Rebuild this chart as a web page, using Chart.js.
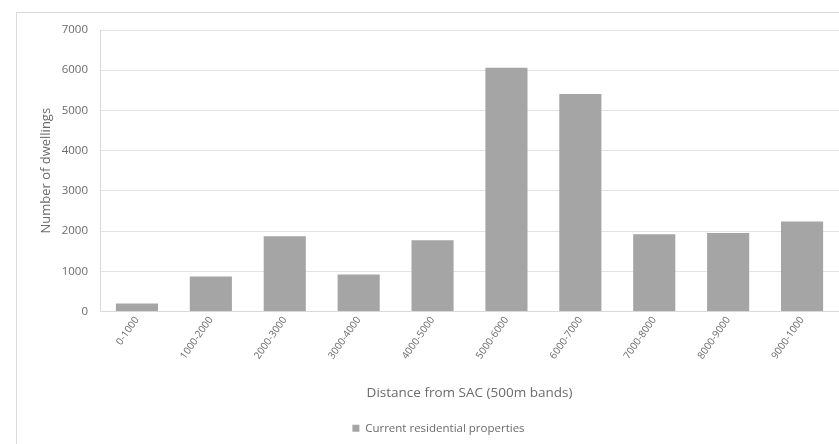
<!DOCTYPE html>
<html><head><meta charset="utf-8">
<script src="https://cdn.jsdelivr.net/npm/chart.js@4/dist/chart.umd.min.js"></script>
<style>
html,body{margin:0;padding:0;background:#fff;overflow:hidden;width:839px;height:444px}
#frame{position:absolute;left:16px;top:12px;width:840px;height:440px;border:1px solid #d9d9d9;box-sizing:border-box}
#wrap{position:absolute;left:0;top:0;width:839px;height:444px}
</style></head><body>
<div id="frame"></div>
<div id="wrap"><canvas id="c" width="839" height="444"></canvas></div>
<script>
const categories = ["0-1000","1000-2000","2000-3000","3000-4000","4000-5000","5000-6000","6000-7000","7000-8000","8000-9000","9000-1000"];
const dwellings = [200, 870, 1870, 920, 1770, 6060, 5410, 1920, 1950, 2240];
const seriesName = "Current residential properties";
const yTitle = "Number of dwellings";
const xTitle = "Distance from SAC (500m bands)";
const FONT = "'Open Sans', sans-serif";
const TXT = "#6b6b6b";
new Chart(document.getElementById('c'), {
  type: 'bar',
  data: { labels: categories, datasets: [{ label: seriesName, data: dwellings, backgroundColor: '#a5a5a5', borderWidth: 0, categoryPercentage: 1, barPercentage: 0.57 }] },
  options: {
    responsive: false, animation: false,
    layout: { padding: { left: 38, top: 30, right: 0, bottom: 0 } },
    plugins: {
      tooltip: { enabled: false },
      legend: { position: 'bottom', labels: { font: { family: FONT, size: 11.5 }, color: TXT, boxWidth: 7, boxHeight: 7, padding: 8 } }
    },
    scales: {
      y: {
        min: 0, max: 7000,
        ticks: { stepSize: 1000, callback: v => String(v), font: { family: FONT, size: 11.5 }, color: TXT, padding: 12 },
        grid: { color: '#e3e3e3', drawTicks: false },
        border: { display: true, color: '#d9d9d9' },
        title: { display: true, text: yTitle, font: { family: FONT, size: 13 }, color: TXT, padding: { top: 0, bottom: 0 } },
        afterFit: s => { s.width = 62; }
      },
      x: {
        ticks: { font: { family: FONT, size: 10 }, color: TXT, minRotation: 55, maxRotation: 55, padding: 3 },
        grid: { display: false, drawTicks: false },
        border: { display: true, color: '#d9d9d9' },
        title: { display: true, text: xTitle, font: { family: FONT, size: 13.5 }, color: TXT, padding: { top: 0, bottom: 13 } },
        afterFit: s => { s.height = 103; }
      }
    }
  }
});
</script>
</body></html>
